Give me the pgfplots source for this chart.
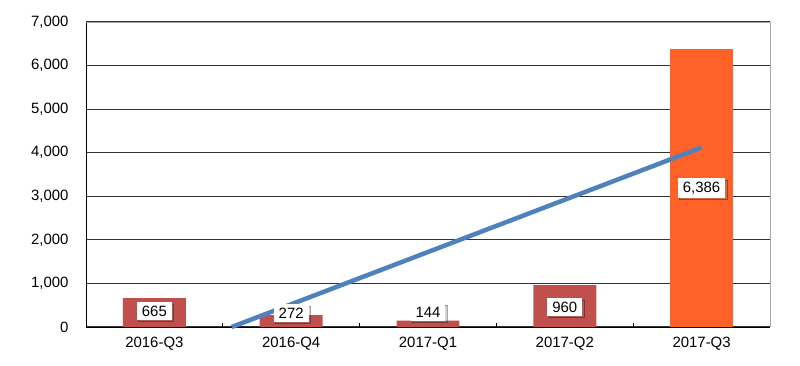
\documentclass[border=0pt]{standalone}
\usepackage{pgfplots}
\pgfplotsset{compat=1.18}
\usepackage{fontspec}
\setmainfont{Liberation Sans}
\usetikzlibrary{shadows}
\definecolor{barred}{HTML}{C0504D}
\definecolor{barorange}{HTML}{FF6228}
\definecolor{trendblue}{HTML}{4F81BD}
\begin{document}
\begin{tikzpicture}
\begin{axis}[
  at={(0,0)}, anchor=south west,
  scale only axis, width=684bp, height=305bp,
  xmin=-0.5, xmax=4.5, ymin=0, ymax=7000,
  axis x line*=bottom, axis y line*=left,
  axis line style={black, line width=0.8bp},
  xtick={0,1,2,3,4},
  xticklabels={2016-Q3,2016-Q4,2017-Q1,2017-Q2,2017-Q3},
  extra x ticks={0.5,1.5,2.5,3.5},
  extra x tick labels={},
  extra x tick style={major tick length=4bp, tick align=inside, tick style={black, line width=0.8bp}, grid=none},
  ytick={0,1000,...,7000},
  major tick length=0pt,
  ymajorgrids,
  grid style={black!80, line width=1.1bp},
  /pgf/number format/.cd, 1000 sep={,}, assume math mode=true,
  /pgfplots/.cd,
  tick label style={font=\fontsize{15}{17}\selectfont, text=black},
  yticklabel style={xshift=-14bp},
  xticklabel style={yshift=-7bp},
  clip=false,
]
\addplot[ybar, bar width=0.46, fill=barred, draw=none, bar shift=0pt] coordinates {(0,665) (1,272) (2,144) (3,960)};
\addplot[ybar, bar width=0.46, fill=barorange, draw=none, bar shift=0pt] coordinates {(4,6386)};
\addplot[trendblue, line width=4.5bp, no marks] coordinates {(0.565,0) (4,4120)};
\draw[gray!70, line width=0.8bp] (rel axis cs:0,1) -- (rel axis cs:1,1) -- (rel axis cs:1,0);
\addplot[only marks, mark=none, nodes near coords, point meta=explicit symbolic,
  nodes near coords style={anchor=center, fill=white, draw=none, drop shadow={opacity=0.35, shadow xshift=1.5bp, shadow yshift=-1.5bp}, inner xsep=5bp, inner ysep=3.5bp, font=\fontsize{15}{17}\selectfont, text=black}]
  coordinates {(0,367)[665] (1,321)[272] (2,344)[144] (3,459)[960] (4,3190)[6,386]};
\end{axis}
\pgfresetboundingbox
\path (-86bp,-39bp) rectangle (714bp,327bp);
\end{tikzpicture}
\end{document}
